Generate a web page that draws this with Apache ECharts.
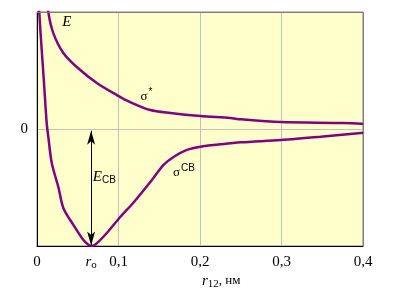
<!DOCTYPE html>
<html><head><meta charset="utf-8">
<script src="https://cdn.jsdelivr.net/npm/echarts@6/dist/echarts.min.js"></script>
<style>html,body{margin:0;padding:0;background:#fff}#c{width:400px;height:300px}</style>
</head><body><div id="c"></div>
<script>
// x tick labels
var xTicks = [0, 0.1, 0.2, 0.3, 0.4];
var yTicks = [0];
// total energy curve E (sigma_CB branch)
var xE = [0.0018, 0.0028, 0.0058, 0.0086, 0.0119, 0.0139, 0.0181, 0.0262, 0.0323, 0.0446, 0.0569, 0.0631, 0.0664, 0.0713, 0.0857, 0.1021, 0.118, 0.141, 0.155, 0.168, 0.184, 0.2005, 0.225, 0.25, 0.299, 0.348, 0.401];
var yE = [1.25, 1.0, 0.675, 0.393, 0.051, -0.068, -0.29, -0.496, -0.675, -0.82, -0.949, -0.99, -1.0, -0.99, -0.889, -0.752, -0.632, -0.436, -0.308, -0.237, -0.179, -0.151, -0.131, -0.114, -0.094, -0.066, -0.032];
// antibonding curve sigma*
var xS = [0.012, 0.0139, 0.02, 0.0323, 0.0488, 0.0734, 0.098, 0.1144, 0.139, 0.1636, 0.2005, 0.237, 0.25, 0.299, 0.376, 0.401];
var yS = [1.2, 1.0, 0.82, 0.65, 0.53, 0.393, 0.29, 0.23, 0.162, 0.137, 0.111, 0.094, 0.083, 0.06, 0.051, 0.043];
// E_CB arrow (from 0 to minimum)
var arrowX = [0.0664, 0.0664];
var arrowY = [-0.015, -0.995];
var r0 = 0.0655;

function zip(a, b) { return a.map(function (v, i) { return [v, b[i]]; }); }

var FONT = '"Liberation Serif", "DejaVu Serif", serif';
var chart = echarts.init(document.getElementById('c'), null, {renderer: 'canvas'});
var purple = '#800080';
chart.setOption({
  animation: false,
  backgroundColor: '#ffffff',
  grid: {left: 37, right: 37, top: 12, bottom: 54, show: true, backgroundColor: '#ffffcc', borderColor: '#808080', borderWidth: 1},
  xAxis: {
    type: 'value', min: 0, max: 0.4, interval: 0.1,
    axisLine: {show: true, onZero: false, lineStyle: {color: '#000', width: 1}},
    axisTick: {show: false},
    splitLine: {show: true, lineStyle: {color: '#c0c0c0', width: 1}},
    axisLabel: {margin: 9, color: '#000', fontFamily: FONT, fontSize: 15,
      formatter: function (v) { return String(Math.round(v * 10) / 10).replace('.', ','); }}
  },
  yAxis: {
    type: 'value', min: -1, max: 1, interval: 1,
    axisLine: {show: true, onZero: false, lineStyle: {color: '#000', width: 1}},
    axisTick: {show: false},
    splitLine: {show: true, lineStyle: {color: '#c0c0c0', width: 1}},
    axisLabel: {margin: 9, color: '#000', fontFamily: FONT, fontSize: 15,
      formatter: function (v) { return yTicks.indexOf(v) >= 0 ? String(v) : ''; }}
  },
  series: [
    {type: 'line', data: zip(xE, yE), smooth: 0.3, showSymbol: false, clip: true,
      lineStyle: {color: purple, width: 2.5},
      markLine: {silent: true, symbol: ['arrow', 'arrow'], symbolSize: [6, 14], label: {show: false},
        lineStyle: {color: '#000', width: 1, type: 'solid'},
        data: [[{coord: [arrowX[0], arrowY[0]]}, {coord: [arrowX[1], arrowY[1]]}]]}},
    {type: 'line', data: zip(xS, yS), smooth: 0.3, showSymbol: false, clip: true,
      lineStyle: {color: purple, width: 2.5}}
  ]
});

function px(x, y) { return chart.convertToPixel({gridIndex: 0}, [x, y]); }
var tl = px(0, 1), br = px(0.4, -1), bx = px(r0, -1);
var rich = {
  it: {fontFamily: FONT, fontStyle: 'italic', fontSize: 15, fill: '#000'},
  sup: {fontFamily: '"Liberation Sans", sans-serif', fontSize: 10, fill: '#000', padding: [0, 0, 8, 1]},
  sub: {fontFamily: '"Liberation Sans", sans-serif', fontSize: 10, fill: '#000', padding: [6, 0, 0, 0]},
  subs: {fontFamily: FONT, fontSize: 11, fill: '#000', padding: [6, 0, 0, 0]},
  n: {fontFamily: FONT, fontSize: 13, fill: '#000'}
};
function txt(p, text, dx, dy) {
  return {type: 'text', x: p[0] + dx, y: p[1] + dy, z: 50,
    style: {text: text, rich: rich, align: 'left', verticalAlign: 'middle', fill: '#000'}};
}
var eLab = px(0.031, 0.91), sLab = px(0.127, 0.28), cLab = px(0.167, -0.37), ecLab = px(0.0685, -0.41);
chart.setOption({
  graphic: [
    {type: 'line', z: 40, shape: {x1: tl[0], y1: tl[1] + 0.5, x2: br[0], y2: tl[1] + 0.5}, style: {stroke: '#808080', lineWidth: 1}},
    {type: 'line', z: 40, shape: {x1: br[0] + 0.5, y1: tl[1], x2: br[0] + 0.5, y2: br[1]}, style: {stroke: '#808080', lineWidth: 1}},
    txt(eLab, '{it|E}', 0, 0),
    txt(sLab, '{n|σ}{sup|*}', 0, 0),
    txt(cLab, '{n|σ}{sup|СВ}', 0, 0),
    txt(ecLab, '{it|E}{sub|СВ}', 0, 0),
    {type: 'text', x: bx[0] - 5, y: bx[1] + 16, z: 50, style: {text: '{it|r}{subs|o}', rich: rich, verticalAlign: 'middle'}},
    {type: 'text', x: px(0.2, -1)[0] + 2, y: bx[1] + 35, z: 50, style: {text: '{it|r}{subs|12}{n|, нм}', rich: rich, verticalAlign: 'middle'}}
  ]
});
</script></body></html>
